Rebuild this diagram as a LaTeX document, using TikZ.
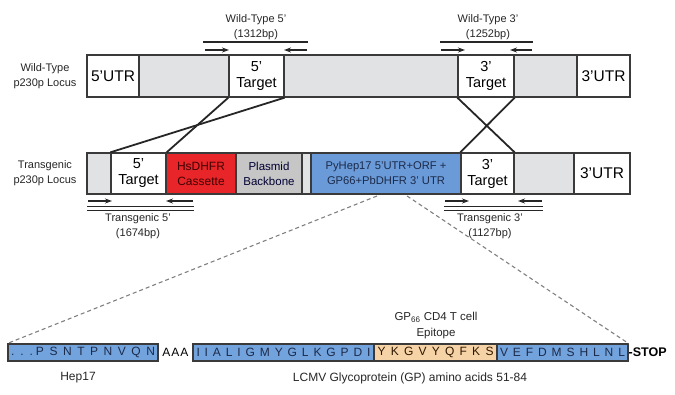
\documentclass[tikz,border=0pt]{standalone}
\usepackage{fontspec}
\setmainfont{Liberation Sans}
\usetikzlibrary{arrows.meta}
\definecolor{lgray}{HTML}{E1E2E4}
\definecolor{pgray}{HTML}{C6C6C6}
\definecolor{hsred}{HTML}{E8262A}
\definecolor{pyblue}{HTML}{6A9BD8}
\definecolor{sqblue}{HTML}{72A3DC}
\definecolor{eporange}{HTML}{F6D3A6}
\definecolor{edge}{HTML}{3A3A3A}
\definecolor{seqtext}{HTML}{1C2A4A}
\begin{document}
\begin{tikzpicture}[x=1pt,y=-1pt,
  box/.style={draw=edge,line width=1.3pt,inner sep=0pt,minimum height=42,align=center},
  tbox/.style={box,minimum height=41},
  big/.style={font=\fontsize{15.5}{16}\selectfont},
  mid/.style={font=\fontsize{14.5}{16}\selectfont},
  lbl/.style={align=center,inner sep=0pt,font=\fontsize{11}{15}\selectfont,text=black!85},
  seqbox/.style={draw=edge,line width=1.1pt,inner sep=0pt,minimum height=17,text=seqtext,font=\fontsize{12}{13}\selectfont},
  bar/.style={line width=2pt,black!85},
  thinbar/.style={line width=1.1pt,black!85},
  primer/.style={line width=1.3pt,black!85,-{Stealth[length=7pt,width=5pt]}},
  cross/.style={line width=1.8pt,black!85},
  zoomline/.style={gray,line width=1.1pt,dash pattern=on 4pt off 3pt}]
\useasboundingbox (0,0) rectangle (675,395);
% ---- Wild-type locus
\node[lbl] (wtlab) at (45,76) {Wild-Type\\p230p Locus};
\node[box,fill=white,minimum width=52,big] (wt5u) at (113,76) {5'UTR};
\node[box,fill=lgray,minimum width=90] (wtg1) at (184,76) {};
\node[box,fill=white,minimum width=55,mid] (wt5t) at (256.5,76) {5'\\Target};
\node[box,fill=lgray,minimum width=174] (wtg2) at (371,76) {};
\node[box,fill=white,minimum width=56,mid] (wt3t) at (486,76) {3'\\Target};
\node[box,fill=lgray,minimum width=63] (wtg3) at (545.5,76) {};
\node[box,fill=white,minimum width=53,big] (wt3u) at (603.5,76) {3'UTR};
% ---- Transgenic locus
\node[lbl] (tglab) at (45,173) {Transgenic\\p230p Locus};
\node[tbox,fill=lgray,minimum width=24] (tgg1) at (99,173.5) {};
\node[tbox,fill=white,minimum width=55,mid] (tg5t) at (138.5,173.5) {5'\\Target};
\node[tbox,fill=hsred,minimum width=70,text=black!75!red,font=\fontsize{12}{15}\selectfont] (hs) at (201,173.5) {HsDHFR\\Cassette};
\node[tbox,fill=pgray,minimum width=66,text=black!80!blue,font=\fontsize{11.5}{15}\selectfont] (pb) at (269,173.5) {Plasmid\\Backbone};
\node[tbox,fill=lgray,minimum width=9] (tgg2) at (306.5,173.5) {};
\node[tbox,fill=pyblue,minimum width=150,text=seqtext,font=\fontsize{11.2}{15}\selectfont] (py) at (386,173.5) {PyHep17 5'UTR+ORF +\\GP66+PbDHFR 3' UTR};
\node[tbox,fill=white,minimum width=53,mid] (tg3t) at (487.5,173.5) {3'\\Target};
\node[tbox,fill=lgray,minimum width=60] (tgg3) at (544,173.5) {};
\node[tbox,fill=white,minimum width=56,big] (tg3u) at (602,173.5) {3'UTR};
% ---- recombination crosses
\draw[cross] (wt5t.south west) -- (tg5t.north east);
\draw[cross] (wt5t.south east) -- (tg5t.north west);
\draw[cross] (wt3t.south west) -- (tg3t.north east);
\draw[cross] (wt3t.south east) -- (tg3t.north west);
% ---- primers: wild-type 5'
\node[lbl] (wt5lab) at (256,27) {Wild-Type 5'\\(1312bp)};
\coordinate (a1) at (203,42); \coordinate (a2) at (308,42);
\draw[bar] (a1) -- (a2);
\coordinate (a3) at (205,50); \coordinate (a4) at (229,50);
\coordinate (a5) at (307,50); \coordinate (a6) at (284,50);
\draw[primer] (a3) -- (a4);
\draw[primer] (a5) -- (a6);
% ---- primers: wild-type 3'
\node[lbl] (wt3lab) at (488,27) {Wild-Type 3'\\(1252bp)};
\coordinate (b1) at (440,42); \coordinate (b2) at (533,42);
\draw[bar] (b1) -- (b2);
\coordinate (b3) at (441,50); \coordinate (b4) at (465,50);
\coordinate (b5) at (532,50); \coordinate (b6) at (510,50);
\draw[primer] (b3) -- (b4);
\draw[primer] (b5) -- (b6);
% ---- primers: transgenic 5'
\coordinate (c3) at (88,201); \coordinate (c4) at (112,201);
\coordinate (c5) at (193,201); \coordinate (c6) at (166,201);
\draw[primer] (c3) -- (c4);
\draw[primer] (c5) -- (c6);
\coordinate (c1) at (87,206.5); \coordinate (c2) at (194,206.5);
\coordinate (c7) at (87,210.5); \coordinate (c8) at (194,210.5);
\draw[thinbar] (c1) -- (c2);
\draw[thinbar] (c7) -- (c8);
\node[lbl] (tg5lab) at (138,226) {Transgenic 5'\\(1674bp)};
% ---- primers: transgenic 3'
\coordinate (d3) at (445,201); \coordinate (d4) at (469,201);
\coordinate (d5) at (542,201); \coordinate (d6) at (518,201);
\draw[primer] (d3) -- (d4);
\draw[primer] (d5) -- (d6);
\coordinate (d1) at (444,206.5); \coordinate (d2) at (543,206.5);
\coordinate (d7) at (444,210.5); \coordinate (d8) at (543,210.5);
\draw[thinbar] (d1) -- (d2);
\draw[thinbar] (d7) -- (d8);
\node[lbl] (tg3lab) at (490,226) {Transgenic 3'\\(1127bp)};
% ---- peptide sequence
\node[seqbox,fill=sqblue,minimum width=150] (s1) at (83,352.5) {\makebox[22pt][s]{. . .}\hspace{3pt}\makebox[119pt][s]{P S N T P N V Q N}};
\node[inner sep=0pt,font=\fontsize{12}{13}\selectfont] (aaa) at (175.5,352.5) {A\hspace{1pt}A\hspace{1pt}A};
\node[seqbox,fill=sqblue,minimum width=181] (s2) at (283.5,352.5) {\makebox[174pt][s]{I I A L I G M Y G L K G P D I}};
\node[seqbox,fill=eporange,minimum width=123,text=black!70!orange!60!black] (s3) at (435.5,352.5) {\makebox[116pt][s]{Y K G V Y Q F K S}};
\node[seqbox,fill=sqblue,minimum width=131] (s4) at (562.5,352.5) {\makebox[125pt][s]{V E F D M S H L N L}};
\node[anchor=west,inner sep=0pt,font=\bfseries\fontsize{12.5}{13}\selectfont] (stop) at (628.5,352.5) {-STOP};
\node[lbl,font=\fontsize{11.5}{16}\selectfont] (epi) at (436,326) {GP\textsubscript{66} CD4 T cell\\Epitope};
\node[lbl,font=\fontsize{12}{15}\selectfont] (hep) at (78,378) {Hep17};
\node[lbl,font=\fontsize{12}{15}\selectfont] (lcmv) at (410,378) {LCMV Glycoprotein (GP) amino acids 51-84};
% ---- zoom lines
\coordinate (zl) at (377,196);
\coordinate (zr) at (407,196);
\draw[zoomline] (zl) -- (s1.north west);
\draw[zoomline] (zr) -- (s4.north east);
\end{tikzpicture}
\end{document}
